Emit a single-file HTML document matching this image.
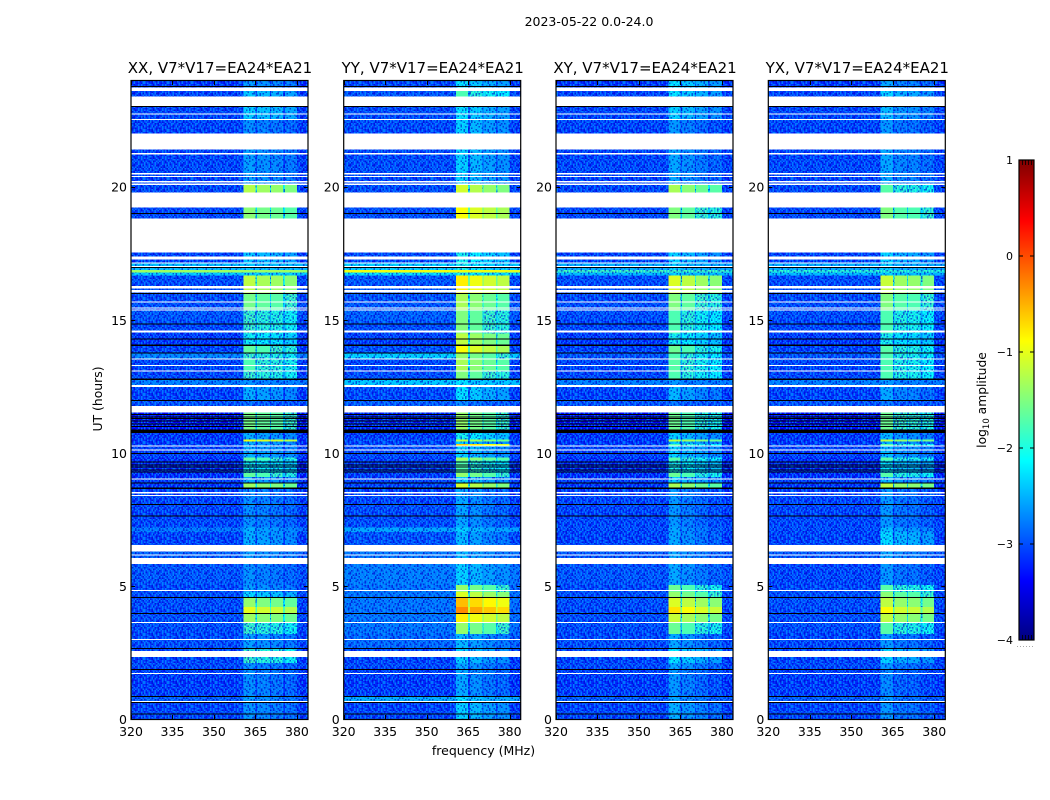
<!DOCTYPE html>
<html lang="en">
<head>
<meta charset="utf-8">
<title>2023-05-22 0.0-24.0</title>
<style>
html,body{margin:0;padding:0;background:#fff;}
svg{display:block;position:absolute;left:0;top:0;}
text{font-family:"DejaVu Sans","Liberation Sans",sans-serif;fill:#000;}
</style>
</head>
<body>
<svg id="figure" width="1050" height="800" viewBox="0 0 1050 800" xmlns="http://www.w3.org/2000/svg">
  <defs id="defs"></defs>
  <text x="589" y="26" font-size="12.5" text-anchor="middle">2023-05-22 0.0-24.0</text>
  <text x="0" y="0" font-size="12.4" text-anchor="middle" transform="translate(102 399) rotate(-90)">UT (hours)</text>
  <text x="483.5" y="755" font-size="12.5" text-anchor="middle">frequency (MHz)</text>
  <text x="0" y="0" font-size="12.3" text-anchor="middle" transform="translate(986 400) rotate(-90)">log<tspan font-size="8.5" dy="3">10</tspan><tspan dy="-3"> amplitude</tspan></text>
  <g id="panels"></g>
  <g id="colorbar"></g>
</svg>
<script>
// ---------- chart data (levels are log10 amplitude) ----------
const panelTitles = ["XX, V7*V17=EA24*EA21", "YY, V7*V17=EA24*EA21", "XY, V7*V17=EA24*EA21", "YX, V7*V17=EA24*EA21"];
const xTicks = [320, 335, 350, 365, 380];
const yTicks = [0, 5, 10, 15, 20];
const colorTicks = [-4, -3, -2, -1, 0, 1];

// time band edges (UT hours)
const bandEdges = [0,.68,.86,1.84,2.10,2.66,3.19,3.60,3.98,4.20,
  4.54,4.77,5.03,5.82,6.53,7.03,7.20,8.07,8.69,8.87,
  9.09,9.24,9.72,9.83,10.25,10.34,10.43,10.50,10.75,11.52,
  11.97,12.50,12.74,13.06,13.55,13.73,14.03,14.48,14.86,15.35,
  15.99,16.66,16.77,16.87,17.11,17.52,18.81,19.21,19.79,20.07,
  21.39,22.50,23.04,23.60,23.98];

// level of the bright 360-380 MHz block, per band and polarisation
const rfiXX = [-2.8,-2.75,-2.85,-2.85,-1.95,-2.75,-1.95,-1.5,-1.15,-1.55,
  -2.4,-2.75,-2.85,-2.75,-2.65,-2.65,-2.85,-2.85,-1.5,-2.65,
  -1.8,-2.2,-1.8,-2.65,-2.65,-2.65,-1.1,-2.65,-1.7,-3.05,
  -2.65,-2.85,-1.95,-1.9,-1.95,-1.8,-2.2,-1.95,-1.95,-1.7,
  -1.35,-2.5,-2.5,-2.5,-2.5,-2.5,-1.6,-2.5,-1.4,-2.75,
  -2.85,-2.45,-2.5,-2.75];
const rfiYY = [-2.5,-2.4,-2.75,-2.75,-2.5,-2.65,-1.6,-1.0,-0.5,-0.75,
  -1.25,-1.6,-2.5,-2.65,-2.65,-2.5,-2.75,-2.75,-1.3,-2.5,
  -1.6,-1.95,-1.5,-2.5,-0.8,-2.5,-1.4,-2.2,-1.6,-2.95,
  -2.4,-2.4,-1.7,-1.5,-1.6,-1.1,-1.4,-1.7,-1.7,-1.5,
  -1.0,-2.2,-2.2,-2.2,-2.2,-2.2,-1.1,-2.2,-1.3,-2.5,
  -2.5,-2.4,-1.95,-2.4];
const rfiXY = [-2.7,-2.75,-2.85,-2.75,-2.4,-2.75,-1.8,-1.35,-0.95,-1.25,
  -1.6,-1.8,-2.75,-2.75,-2.75,-2.75,-2.85,-2.85,-1.5,-2.5,
  -1.8,-2.2,-1.9,-2.5,-1.95,-2.5,-1.4,-2.5,-1.8,-3.05,
  -2.65,-2.85,-1.95,-1.9,-1.95,-1.8,-2.2,-1.95,-1.95,-1.7,
  -1.25,-2.5,-2.2,-2.5,-2.5,-2.5,-1.7,-2.5,-1.5,-2.75,
  -2.85,-2.5,-2.4,-2.4];
const rfiYX = [-2.85,-2.85,-2.95,-2.85,-2.5,-2.85,-1.9,-1.4,-1.1,-1.4,
  -1.65,-1.9,-2.85,-2.75,-2.45,-2.6,-2.85,-2.85,-1.4,-2.65,
  -1.9,-2.4,-1.9,-2.65,-1.9,-2.65,-1.4,-2.65,-1.8,-3.05,
  -2.75,-2.85,-1.95,-1.95,-1.95,-1.9,-2.2,-1.95,-1.95,-1.7,
  -1.35,-2.5,-2.4,-2.5,-2.5,-2.5,-1.7,-2.5,-1.9,-2.75,
  -2.85,-2.65,-2.5,-2.75];

// level of the quiet 320-360 MHz background, per band and polarisation
const bgXX = [-3.12,-2.98,-3.17,-3.12,-3.12,-3.08,-3.08,-3.08,-3.08,-3.08,
  -3.08,-3.08,-3.03,-2.98,-3.12,-2.85,-3.12,-3.12,-3.2,-3.2,
  -3.25,-3.25,-3.25,-3.17,-3.12,-3.17,-3.17,-3.2,-3.35,-3.03,
  -3.12,-2.8,-3.12,-3.12,-2.75,-3.12,-3.2,-3.12,-3.03,-3.08,
  -3.08,-2.3,-1.35,-2.4,-3.12,-3.12,-3.12,-3.12,-3.12,-3.12,
  -3.12,-3.12,-3.12,-3.17];
const bgYY = [-3.12,-2.5,-3.17,-3.12,-3.12,-2.92,-2.85,-2.85,-2.85,-2.85,
  -2.85,-2.85,-2.8,-2.85,-3.03,-2.55,-3.08,-3.12,-3.12,-3.17,
  -3.17,-3.17,-3.17,-3.12,-3.03,-3.12,-3.03,-3.17,-3.25,-2.98,
  -3.08,-2.35,-3.08,-3.12,-2.3,-3.03,-3.17,-3.08,-2.98,-3.03,
  -3.03,-2.2,-0.95,-2.3,-3.08,-3.08,-3.08,-3.08,-3.08,-3.08,
  -3.08,-3.08,-3.03,-3.08];
const bgXY = [-3.12,-2.98,-3.17,-3.12,-3.12,-3.08,-3.08,-3.08,-3.08,-3.08,
  -3.08,-3.08,-3.03,-3.03,-3.12,-3.12,-3.12,-3.12,-3.2,-3.2,
  -3.25,-3.25,-3.25,-3.17,-3.12,-3.17,-3.17,-3.2,-3.35,-3.03,
  -3.12,-2.8,-3.12,-3.12,-3.03,-3.12,-3.2,-3.12,-3.08,-3.08,
  -3.08,-2.4,-1.8,-2.5,-3.12,-3.12,-3.12,-3.12,-3.12,-3.12,
  -3.12,-3.12,-3.12,-3.17];
const bgYX = [-3.12,-2.98,-3.17,-3.12,-3.12,-3.12,-3.08,-3.08,-3.08,-3.08,
  -3.08,-3.08,-3.12,-3.03,-3.12,-3.12,-3.12,-3.12,-3.2,-3.2,
  -3.25,-3.25,-3.25,-3.17,-3.12,-3.17,-3.17,-3.2,-3.35,-3.03,
  -3.12,-2.8,-3.12,-3.12,-3.03,-3.12,-3.2,-3.12,-3.08,-3.08,
  -3.08,-2.4,-1.9,-2.5,-3.12,-3.12,-3.12,-3.12,-3.12,-3.12,
  -3.12,-3.12,-3.12,-3.17];

// spectral windows (MHz) and each window's offset from the block level
const windowStart = [360.6, 365.6, 370.6, 375.7];
const windowEnd = [365, 370.2, 375, 380];
const windowOffsetXX = [0.15, 0.05, 0, -0.1];
const windowOffsetYY = [0.2, 0.05, -0.1, -0.2];
const windowOffsetXY = [0.2, 0.05, -0.1, -0.2];
const windowOffsetYX = [0.2, 0, -0.05, -0.15];

// flagged rows, [start, end] in UT hours
const whiteGaps = [[.638,.675],[1.70,1.737],[2.338,2.563],[2.976,3.013],[3.60,3.64],[4.80,4.84],
  [5.82,6.05],[6.14,6.18],[6.29,6.53],[8.38,8.42],[8.48,8.52],[9.01,9.03],[10.09,10.13],[10.24,10.28],
  [11.51,11.76],[12.48,12.55],[13.06,13.10],[13.26,13.30],[13.51,13.55],[14.52,14.60],[15.35,15.38],
  [15.42,15.46],[15.65,15.68],[16.03,16.12],[16.17,16.27],[16.97,17.02],[17.11,17.16],[17.26,17.38],
  [17.52,18.81],[19.21,19.79],[20.07,20.11],[20.16,20.21],[20.37,20.41],[20.46,20.51],[21.20,21.26],
  [21.39,22.0],[22.50,22.54],[22.71,22.75],[23.04,23.39],[23.60,23.73]];
const blackRows = [[.16,.20],[.60,.64],[.825,.863],[1.84,1.876],[2.627,2.664],[3.95,3.99],[4.54,4.58],
  [7.62,7.65],[8.04,8.07],[8.64,8.69],[8.87,8.89],[9.26,9.30],[9.34,9.38],[9.44,9.48],[9.53,9.57],
  [9.63,9.67],[9.96,9.99],[10.74,10.87],[10.97,11.0],[11.08,11.11],[11.18,11.21],[11.27,11.30],
  [11.34,11.37],[11.43,11.46],[11.94,11.99],[12.74,12.80],[13.73,13.77],[14.01,14.07],[14.26,14.30],
  [14.82,14.86],[15.97,16.0],[16.96,16.99],[18.99,19.02],[23.01,23.04],[23.75,23.78]];

// hand-typed grain tile that stands in for the pixel-level noise (l = lighter, d = darker)
const grainTile = [
  "l.ldl.l..ldl.l.d",
  ".l..ld.ll.d.d.l.",
  "d.ll..ld.dl.l.dl",
  "l.ld.l..ld.l.d..",
  "l..d.ldl..l.l.ld",
  ".dl.l.l.d.d.l.l.",
  "l..d.dl.dl..ld.l",
  "l.l..d.l.l.d..dl",
  ".d.ll.dl.d..l.l.",
  "l.l.d.d.l.d.l.l.",
  "d..ll.l.dl.ld.l.",
  ".l.d.ld.l.l.l.dl",
  "l.l.dl.l.ld.l.d.",
  "ld.l.d.l.d..l.l.",
  "l..l.l.ldd.l.dld",
  ".l.ld.l.l.ld.d.l"
];

// ---------- scales ----------
const panelLefts = [131, 343.7, 556, 768.3];
const panelWidth = 177, plotTop = 81, plotBottom = 719;
const freqMin = 320, freqMax = 384, timeMin = 0, timeMax = 23.97;
const xScale = (left, f) => left + (f - freqMin) / (freqMax - freqMin) * panelWidth;
const yScale = t => plotBottom - (t - timeMin) / (timeMax - timeMin) * (plotBottom - plotTop);
const colorY = v => 640 - (v + 4) * 96;

function jetChannel(n, centre) { return Math.max(0, Math.min(1, 1.5 - Math.abs(4 * n - centre))); }
function colorScale(level) {
  const n = Math.max(0, Math.min(1, (level + 4) / 5));
  const r = jetChannel(n, 3);
  const g = jetChannel(n, 2);
  const b = jetChannel(n, 1);
  return "rgb(" + Math.round(r * 255) + "," + Math.round(g * 255) + "," + Math.round(b * 255) + ")";
}

const NS = "http://www.w3.org/2000/svg";
function make(tag, parent, attrs) {
  const el = document.createElementNS(NS, tag);
  for (const k in attrs) el.setAttribute(k, attrs[k]);
  parent.appendChild(el);
  return el;
}

// ---------- grain pattern ----------
const grainSize = 1.5;
const pattern = make("pattern", document.getElementById("defs"), {
  id: "grain", patternUnits: "userSpaceOnUse",
  width: grainTile[0].length * grainSize, height: grainTile.length * grainSize
});


grainTile.forEach((row, r) => {
  row.split("").forEach((ch, c) => {
    if (ch === ".") return;
    const speck = make("rect", pattern, {
      x: c * grainSize, y: r * grainSize, width: grainSize, height: grainSize,
      fill: ch === "l" ? "rgba(0,170,255,.6)" : "rgba(0,0,200,.6)"
    });
    
    
  });
});

// ---------- panels ----------
const panelsRoot = document.getElementById("panels");
const rfiByPanel = [rfiXX, rfiYY, rfiXY, rfiYX];
const bgByPanel = [bgXX, bgYY, bgXY, bgYX];
const offsetByPanel = [windowOffsetXX, windowOffsetYY, windowOffsetXY, windowOffsetYX];

function drawCell(group, left, f0, f1, t0, t1, level) {
  const x = xScale(left, f0), w = xScale(left, f1) - x;
  const y = yScale(t1), h = yScale(t0) - y;
  const cell = make("rect", group, {
    x: x, y: y, width: w, height: h, fill: colorScale(level), "shape-rendering": "crispEdges"
  });
  
  
  if (level < -1.75) {
    const grain = make("rect", group, {
      x: x, y: y, width: w, height: h, fill: "url(#grain)", "shape-rendering": "crispEdges"
    });
    
    
  }
}

panelTitles.forEach((title, p) => {
  const left = panelLefts[p];
  const panel = make("g", panelsRoot, {});
  
  

  const heat = make("g", panel, {});
  
  

  for (let b = 0; b < bandEdges.length - 1; b++) {
    const t0 = bandEdges[b], t1 = bandEdges[b + 1];
    const bg = bgByPanel[p][b], rfi = rfiByPanel[p][b];
    drawCell(heat, left, freqMin, windowStart[0], t0, t1, bg);
    windowStart.forEach((fs, w) => {
      drawCell(heat, left, fs, windowEnd[w], t0, t1, Math.max(bg, rfi + offsetByPanel[p][w]));
      const nextF = w < windowStart.length - 1 ? windowStart[w + 1] : null;
      if (nextF !== null) drawCell(heat, left, windowEnd[w], nextF, t0, t1, Math.max(bg, rfi - 0.6));
    });
    drawCell(heat, left, windowEnd[windowEnd.length - 1], freqMax, t0, t1, bg - 0.05);
  }

  whiteGaps.forEach(g => {
    const y = yScale(g[1]);
    const gap = make("rect", panel, {
      x: left, y: y, width: panelWidth, height: Math.max(1, yScale(g[0]) - y), fill: "#fff", "shape-rendering": "crispEdges"
    });
    
    
  });
  blackRows.forEach(g => {
    const y = yScale(g[1]);
    const line = make("rect", panel, {
      x: left, y: y, width: panelWidth, height: Math.max(1, yScale(g[0]) - y), fill: "#000", "shape-rendering": "crispEdges"
    });
    
    
  });

  const frame = make("rect", panel, {
    x: left, y: plotTop - 0.5, width: panelWidth, height: plotBottom - plotTop + 1,
    fill: "none", stroke: "#000", "stroke-width": 1.2
  });
  
  

  xTicks.forEach(f => {
    const x = Math.round(xScale(left, f)) + 0.5;
    const tickB = make("line", panel, { x1: x, x2: x, y1: plotBottom, y2: plotBottom - 4, stroke: "#000" });
    
    
    const tickT = make("line", panel, { x1: x, x2: x, y1: plotTop, y2: plotTop + 4, stroke: "#000" });
    
    
    const label = make("text", panel, { x: xScale(left, f), y: 736, "font-size": 12.5, "text-anchor": "middle" });
    label.textContent = f;
    
    
  });

  yTicks.forEach(t => {
    const y = Math.round(yScale(t)) + 0.5;
    const tickL = make("line", panel, { x1: left, x2: left + 4, y1: y, y2: y, stroke: "#000" });
    
    
    const tickR = make("line", panel, { x1: left + panelWidth, x2: left + panelWidth - 4, y1: y, y2: y, stroke: "#000" });
    
    
    const label = make("text", panel, { x: left - 4, y: yScale(t) + 5, "font-size": 12.5, "text-anchor": "end" });
    label.textContent = t;
    
    
  });

  const titleEl = make("text", panel, { x: left + panelWidth / 2 + 0.5, y: 73, "font-size": 15, "text-anchor": "middle" });
  titleEl.textContent = title;
  
  
});

// ---------- colorbar ----------
const cb = document.getElementById("colorbar");
const cbLeft = 1019, cbRight = 1034;
const cbSteps = 240;
for (let i = 0; i < cbSteps; i++) {
  const v0 = -4 + 5 * i / cbSteps, v1 = -4 + 5 * (i + 1) / cbSteps;
  const step = make("rect", cb, {
    x: cbLeft, y: colorY(v1), width: cbRight - cbLeft, height: colorY(v0) - colorY(v1) + 0.5,
    fill: colorScale((v0 + v1) / 2), "shape-rendering": "crispEdges"
  });
  
  
}
const cbFrame = make("rect", cb, {
  x: cbLeft, y: 160, width: cbRight - cbLeft, height: 480, fill: "none", stroke: "#000", "stroke-width": 1.2
});


colorTicks.forEach(v => {
  const y = colorY(v);
  const t1 = make("line", cb, { x1: cbLeft, x2: cbLeft + 4, y1: y, y2: y, stroke: "#000" });
  
  
  const t2 = make("line", cb, { x1: cbRight, x2: cbRight - 4, y1: y, y2: y, stroke: "#000" });
  
  
  const label = make("text", cb, { x: 1013, y: y + 4, "font-size": 11, "text-anchor": "end" });
  label.textContent = v < 0 ? "\u2212" + Math.abs(v) : String(v);
  
  
});
[1022.5, 1025.5, 1028.5, 1031.5].forEach(x => {
  const top = make("line", cb, { x1: x, x2: x, y1: 160, y2: 165, stroke: "#000", "stroke-width": 0.8 });
  
  
  const bottom = make("line", cb, { x1: x, x2: x, y1: 640, y2: 635, stroke: "#000", "stroke-width": 0.8 });
  
  
});
const dots = make("line", cb, { x1: 1017, x2: 1035, y1: 646.5, y2: 646.5, stroke: "#aaa", "stroke-width": 1, "stroke-dasharray": "1 2" });


</script>
</body>
</html>
